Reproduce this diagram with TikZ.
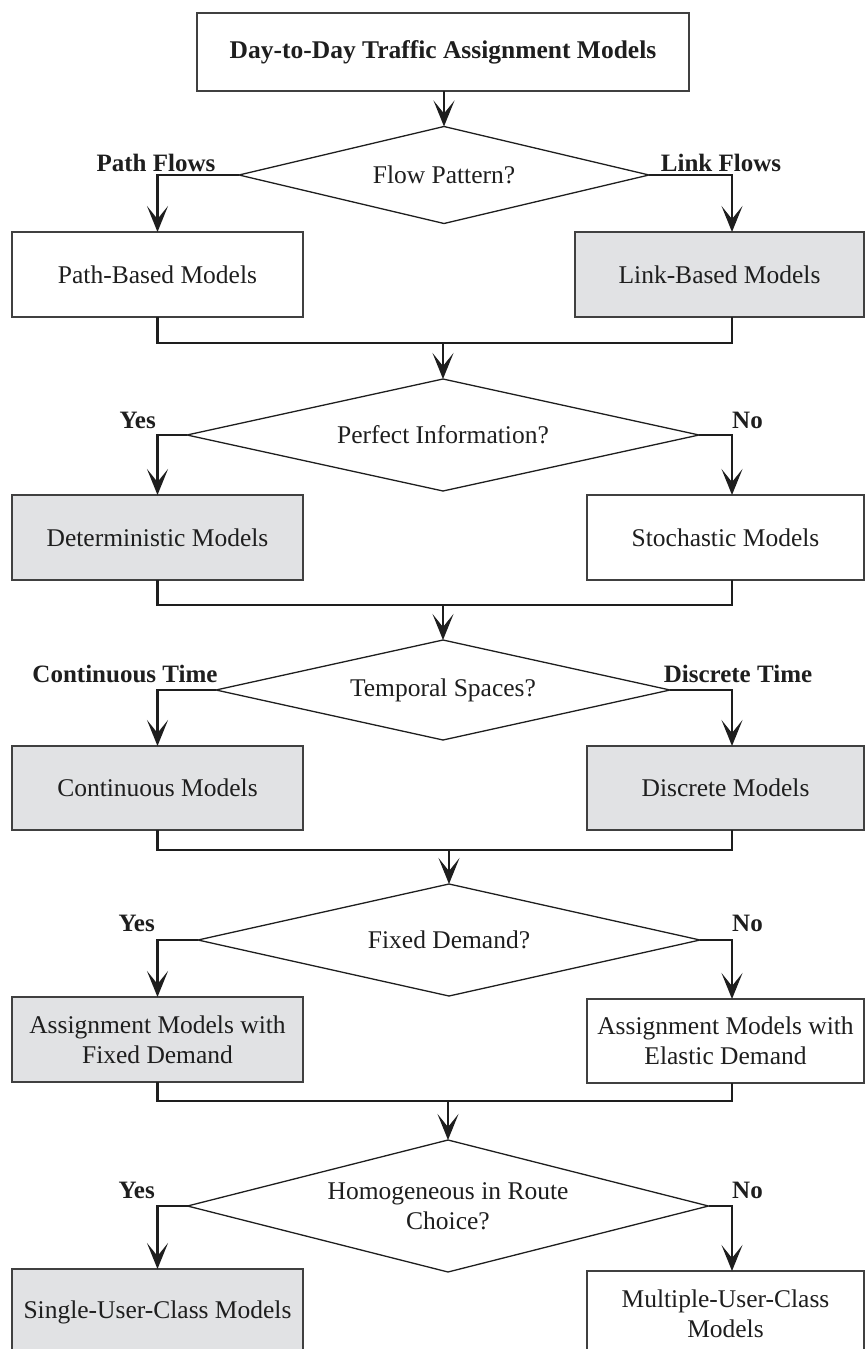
\documentclass[tikz,border=0pt]{standalone}
\usepackage{fontspec}
\setmainfont{Liberation Serif}
\usetikzlibrary{shapes.geometric,arrows.meta}
\definecolor{boxgray}{RGB}{225,226,228}
\definecolor{ink}{RGB}{30,30,30}
\begin{document}
\begin{tikzpicture}[x=1pt,y=-1pt,
  txt/.style={font=\fontsize{25.5}{30}\selectfont},
  lbl/.style={font=\bfseries\fontsize{25}{30}\selectfont, inner sep=0pt, text=ink},
  box/.style={draw=ink!85, line width=1.1pt, rectangle, inner sep=0pt, outer sep=0pt,
              align=center, txt, text=ink},
  shaded/.style={box, fill=boxgray},
  dia/.style={draw=ink, line width=1.3pt, diamond, shape aspect=4, inner sep=0pt,
              outer sep=0pt, align=center, txt, text=ink},
  conn/.style={draw=ink, line width=2.2pt},
  arr/.style={conn, -{Stealth[length=26pt,width=21pt,inset=13pt]}}]

\useasboundingbox (0,0) rectangle (865,1349);
\clip (0,0) rectangle (865,1349);

% column of the right-hand arrows
\coordinate (rx) at (732,0);

% title
\node[box, font=\bfseries\fontsize{25.5}{30}\selectfont, minimum width=492pt, minimum height=78pt]
  (title) at (443,52) {Day-to-Day Traffic Assignment Models};

% decision 1
\node[dia, minimum width=410pt, minimum height=97pt] (d1) at (444,175) {Flow Pattern?};
\node[box, minimum width=291pt, minimum height=85pt] (pb) at (157.5,274.5) {Path-Based Models};
\node[shaded, minimum width=289pt, minimum height=85pt] (lb) at (719.5,274.5) {Link-Based Models};
\node[lbl] (l1a) at (156,163) {Path Flows};
\node[lbl] (l1b) at (721,163) {Link Flows};
\coordinate (m1) at (443,343);

% decision 2
\node[dia, minimum width=512pt, minimum height=112pt] (d2) at (443,435) {Perfect Information?};
\node[shaded, minimum width=291pt, minimum height=85pt] (det) at (157.5,537.5) {Deterministic Models};
\node[box, minimum width=277pt, minimum height=85pt] (sto) at (725.5,537.5) {Stochastic Models};
\node[lbl, anchor=east] (l2a) at (156,420) {Yes};
\node[lbl, anchor=west] (l2b) at (732,420) {No};
\coordinate (m2) at (443,605);

% decision 3
\node[dia, minimum width=454pt, minimum height=100pt] (d3) at (443,690) {Temporal Spaces?};
\node[shaded, minimum width=291pt, minimum height=84pt] (con) at (157.5,788) {Continuous Models};
\node[shaded, minimum width=277pt, minimum height=84pt] (dis) at (725.5,788) {Discrete Models};
\node[lbl] (l3a) at (125,674) {Continuous Time};
\node[lbl] (l3b) at (738,674) {Discrete Time};
\coordinate (m3) at (449,850);

% decision 4
\node[dia, minimum width=502pt, minimum height=112pt] (d4) at (449,940) {Fixed Demand?};
\node[shaded, minimum width=291pt, minimum height=85pt] (fix) at (157.5,1039.5)
  {Assignment Models with\\Fixed Demand};
\node[box, minimum width=277pt, minimum height=84pt] (ela) at (725.5,1041)
  {Assignment Models with\\Elastic Demand};
\node[lbl, anchor=east] (l4a) at (155,923) {Yes};
\node[lbl, anchor=west] (l4b) at (732,923) {No};
\coordinate (m4) at (447,1101);

% decision 5
\node[dia, minimum width=521pt, minimum height=132pt] (d5) at (448,1206)
  {Homogeneous in Route\\Choice?};
\node[shaded, minimum width=291pt, minimum height=86pt] (sgl) at (157.5,1312)
  {Single-User-Class Models};
\node[box, minimum width=277pt, minimum height=86pt] (mul) at (725.5,1314)
  {Multiple-User-Class\\Models};
\node[lbl, anchor=east] (l5a) at (155,1190) {Yes};
\node[lbl, anchor=west] (l5b) at (732,1190) {No};

% connectors
\draw[arr] (d1.north |- title.south) -- (d1.north);

\draw[arr] (d1.west) -| (pb.north);
\draw[arr] (d1.east) -| (lb.north -| rx);
\draw[conn] (pb.south) |- (m1 -| rx) -- (lb.south -| rx);
\draw[arr] (d2.north |- m1) -- (d2.north);

\draw[arr] (d2.west) -| (det.north);
\draw[arr] (d2.east) -| (sto.north -| rx);
\draw[conn] (det.south) |- (m2 -| rx) -- (sto.south -| rx);
\draw[arr] (d3.north |- m2) -- (d3.north);

\draw[arr] (d3.west) -| (con.north);
\draw[arr] (d3.east) -| (dis.north -| rx);
\draw[conn] (con.south) |- (m3 -| rx) -- (dis.south -| rx);
\draw[arr] (d4.north |- m3) -- (d4.north);

\draw[arr] (d4.west) -| (fix.north);
\draw[arr] (d4.east) -| (ela.north -| rx);
\draw[conn] (fix.south) |- (m4 -| rx) -- (ela.south -| rx);
\draw[arr] (d5.north |- m4) -- (d5.north);

\draw[arr] (d5.west) -| (sgl.north);
\draw[arr] (d5.east) -| (mul.north -| rx);
\end{tikzpicture}
\end{document}
